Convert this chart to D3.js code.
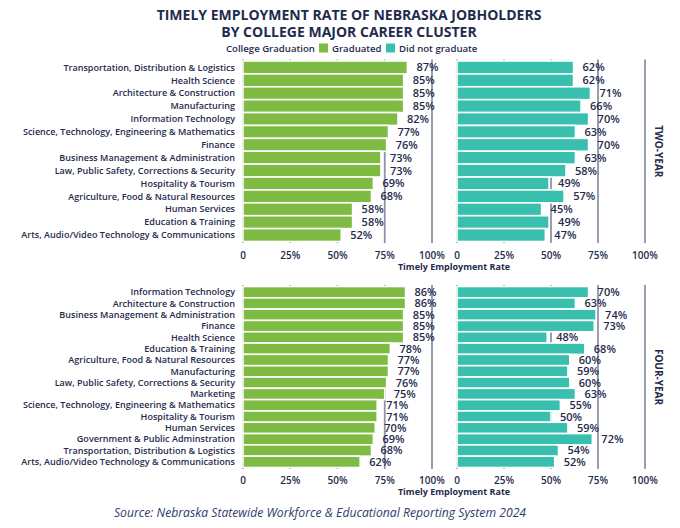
<!DOCTYPE html>
<html><head><meta charset="utf-8">
<script src="https://cdn.jsdelivr.net/npm/d3@7"></script>
<style>body{margin:0;background:#fff}svg{display:block}</style>
</head><body><svg id="c" width="680" height="528"></svg>
<script>
const seriesNames = ["Graduated", "Did not graduate"];
const seriesColors = ["#7dbb42", "#38bfad"];
const facetNames = ["TWO-YEAR", "FOUR-YEAR"];
const twoYearCats = ["Transportation, Distribution & Logistics","Health Science","Architecture & Construction","Manufacturing","Information Technology","Science, Technology, Engineering & Mathematics","Finance","Business Management & Administration","Law, Public Safety, Corrections & Security","Hospitality & Tourism","Agriculture, Food & Natural Resources","Human Services","Education & Training","Arts, Audio/Video Technology & Communications"];
const twoYearGrad = [87,85,85,85,82,77,76,73,73,69,68,58,58,52];
const twoYearNot  = [62,62,71,66,70,63,70,63,58,49,57,45,49,47];
const fourYearCats = ["Information Technology","Architecture & Construction","Business Management & Administration","Finance","Health Science","Education & Training","Agriculture, Food & Natural Resources","Manufacturing","Law, Public Safety, Corrections & Security","Marketing","Science, Technology, Engineering & Mathematics","Hospitality & Tourism","Human Services","Government & Public Adminstration","Transportation, Distribution & Logistics","Arts, Audio/Video Technology & Communications"];
const fourYearGrad = [86,86,85,85,85,78,77,77,76,75,71,71,70,69,68,62];
const fourYearNot  = [70,63,74,73,48,68,60,59,60,63,55,50,59,72,54,52];
const tickValues = [0,25,50,75,100];
const tickLabels = ["0","25%","50%","75%","100%"];

const navy = "#1f2b4d", grid = "#8e94a7";
const font = "'Open Sans', sans-serif";
const svg = d3.select("#c");

svg.append("text").attr("x",349).attr("y",20).attr("text-anchor","middle")
  .attr("font-family",font).attr("font-weight",700).attr("font-size",14).attr("fill",navy)
  .text("TIMELY EMPLOYMENT RATE OF NEBRASKA JOBHOLDERS");
svg.append("text").attr("x",349).attr("y",37).attr("text-anchor","middle")
  .attr("font-family",font).attr("font-weight",700).attr("font-size",14).attr("fill",navy)
  .text("BY COLLEGE MAJOR CAREER CLUSTER");

// legend
const lg = svg.append("g").attr("font-family",font).attr("font-size",9.6).attr("font-weight",600).attr("fill",navy);
lg.append("text").attr("x",226).attr("y",52).text("College Graduation");
const legX = [319, 386];
seriesNames.forEach((s,i)=>{
  lg.append("rect").attr("x",legX[i]).attr("y",43.5).attr("width",9).attr("height",9).attr("fill",seriesColors[i]);
  lg.append("text").attr("x",legX[i]+13).attr("y",52).text(s);
});

const xLeft = d3.scaleLinear().domain([0,100]).range([243,432]);
const xRight = d3.scaleLinear().domain([0,100]).range([457,645]);
const xs = [xLeft, xRight];

const facets = [
  {name: facetNames[0], cats: twoYearCats, vals: [twoYearGrad, twoYearNot], yr: [61,241.5], tickY: 255, titleY: 270},
  {name: facetNames[1], cats: fourYearCats, vals: [fourYearGrad, fourYearNot], yr: [286.5,467.5], tickY: 480, titleY: 495}
];

facets.forEach(f=>{
  const y = d3.scaleBand().domain(f.cats).range(f.yr).padding(0);
  const g = svg.append("g");
  // category labels
  g.selectAll("text.cat").data(f.cats).join("text")
    .attr("x",235).attr("y",d=>y(d)+y.bandwidth()/2).attr("dy","0.35em")
    .attr("text-anchor","end").attr("font-family",font).attr("font-size",9.05).attr("font-weight",600)
    .attr("fill",navy).text(d=>d);
  xs.forEach((x,si)=>{
    // gridlines
    g.selectAll(null).data(tickValues).join("line")
      .attr("x1",d=>x(d)).attr("x2",d=>x(d)).attr("y1",f.yr[0]-1.5).attr("y2",f.yr[1]+1.5)
      .attr("stroke",grid).attr("stroke-width",1.8);
    const vals = f.vals[si];
    g.selectAll(null).data(f.cats).join("rect")
      .attr("x",x(0)).attr("y",d=>y(d)).attr("width",(d,i)=>x(vals[i])-x(0)).attr("height",y.bandwidth())
      .attr("fill",seriesColors[si]).attr("stroke","#fff").attr("stroke-width",1.6);
    g.selectAll(null).data(f.cats).join("text")
      .attr("x",(d,i)=>x(vals[i])+9).attr("y",d=>y(d)+y.bandwidth()/2).attr("dy","0.36em")
      .attr("font-family",font).attr("font-size",11).attr("font-weight",600).attr("fill",navy)
      .text((d,i)=>vals[i]+"%");
    // tick labels
    g.selectAll(null).data(tickValues).join("text")
      .attr("x",d=>x(d)).attr("y",f.tickY).attr("dy","0.35em").attr("text-anchor","middle")
      .attr("font-family",font).attr("font-size",10).attr("font-weight",600).attr("fill",navy)
      .text((d,i)=>tickLabels[i]);
  });
  g.append("text").attr("x",454).attr("y",f.titleY).attr("text-anchor","middle")
    .attr("font-family",font).attr("font-size",9).attr("font-weight",700).attr("fill",navy)
    .text("Timely Employment Rate");
  const cy = (f.yr[0]+f.yr[1])/2;
  g.append("text").attr("transform",`translate(658,${cy}) rotate(90)`).attr("text-anchor","middle").attr("dy","0.35em")
    .attr("font-family",font).attr("font-size",10).attr("font-weight",700).attr("fill",navy).text(f.name);
});

svg.append("text").attr("x",320).attr("y",517).attr("text-anchor","middle")
  .attr("font-family",font).attr("font-size",12.2).attr("font-style","italic").attr("fill","#2c3c6c")
  .text("Source: Nebraska Statewide Workforce & Educational Reporting System 2024");
</script></body></html>
